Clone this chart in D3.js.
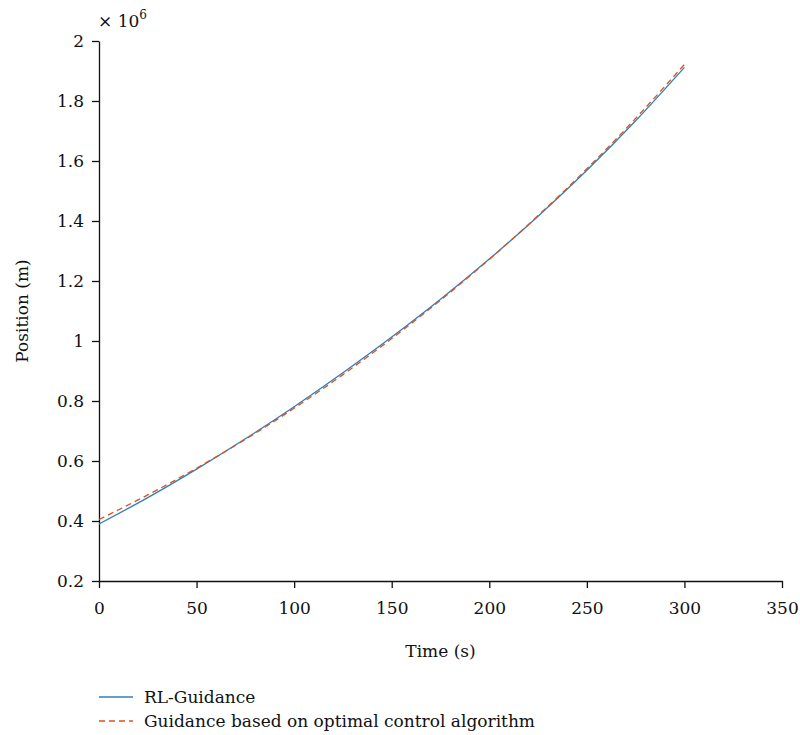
<!DOCTYPE html>
<html>
<head>
<meta charset="utf-8">
<script src="https://cdn.jsdelivr.net/npm/d3@7"></script>
<style>
  body { margin: 0; background: #fff; }
  svg { display: block; }
</style>
</head>
<body>
<svg id="chart" width="800" height="735"></svg>
<script>
// Time samples (s)
const time = [0, 25, 50, 75, 100, 125, 150, 175, 200, 225, 250, 275, 300];
// Position (×10^6 m), RL guidance
const rlGuidance = [0.390, 0.478, 0.573, 0.674, 0.781, 0.894, 1.013, 1.139, 1.273, 1.416, 1.569, 1.734, 1.912];
// Position (×10^6 m), optimal control guidance
const optimalGuidance = [0.405, 0.487, 0.576, 0.672, 0.776, 0.888, 1.008, 1.136, 1.272, 1.418, 1.574, 1.742, 1.922];
const xTicks = [0, 50, 100, 150, 200, 250, 300, 350];
const yTicks = [0.2, 0.4, 0.6, 0.8, 1, 1.2, 1.4, 1.6, 1.8, 2];
const seriesNames = ["RL-Guidance", "Guidance based on optimal control algorithm"];

const FONT = "'DejaVu Serif', serif";
const FS = 17;
const svg = d3.select("#chart");
const m = { left: 99, right: 782, top: 41, bottom: 581 };

const x = d3.scaleLinear().domain([0, 350]).range([m.left, m.right]);
const y = d3.scaleLinear().domain([0.2, 2]).range([m.bottom, m.top]);

const xAxis = d3.axisBottom(x).tickValues(xTicks).tickSize(7).tickSizeOuter(0).tickFormat(d3.format("d"));
const yAxis = d3.axisLeft(y).tickValues(yTicks).tickSize(7).tickSizeOuter(0).tickFormat(d => String(+d.toFixed(1)));

const gx = svg.append("g").attr("transform", `translate(0,${m.bottom})`).call(xAxis);
const gy = svg.append("g").attr("transform", `translate(${m.left},0)`).call(yAxis);

[gx, gy].forEach(g => {
  g.attr("font-family", FONT).attr("font-size", FS);
  g.select(".domain").attr("stroke", "#111").attr("stroke-width", 1.3);
  g.selectAll(".tick line").attr("stroke", "#111").attr("stroke-width", 1.3);
  g.selectAll(".tick text").attr("fill", "#111");
});
gx.selectAll(".tick text").attr("y", 17).attr("dy", "0.95em");
gy.selectAll(".tick text").attr("x", -15).attr("dy", "0.35em");

// Exponent label
const expo = svg.append("text").attr("x", 98).attr("y", 27)
  .attr("font-family", FONT).attr("font-size", FS).attr("fill", "#111");
expo.append("tspan").text("× 10");
expo.append("tspan").attr("dy", -8).attr("font-size", 12).text("6");

// Axis titles
svg.append("text").attr("x", (m.left + m.right) / 2).attr("y", 657)
  .attr("text-anchor", "middle").attr("font-family", FONT).attr("font-size", FS).attr("fill", "#111")
  .text("Time (s)");
svg.append("text").attr("transform", `translate(28,${(m.top + m.bottom) / 2}) rotate(-90)`)
  .attr("text-anchor", "middle").attr("font-family", FONT).attr("font-size", FS).attr("fill", "#111")
  .text("Position (m)");

const line = d3.line().x(d => x(d[0])).y(d => y(d[1])).curve(d3.curveMonotoneX);

const colors = ["#2f7dc2", "#d9541c"];
svg.append("path").datum(d3.zip(time, rlGuidance))
  .attr("d", line).attr("fill", "none").attr("stroke", colors[0]).attr("stroke-width", 1.3);
svg.append("path").datum(d3.zip(time, optimalGuidance))
  .attr("d", line).attr("fill", "none").attr("stroke", colors[1]).attr("stroke-width", 1.3)
  .attr("stroke-dasharray", "6,4");

// Legend
const legend = svg.append("g");
seriesNames.forEach((name, i) => {
  const ly = 697 + i * 24;
  legend.append("line").attr("x1", 99).attr("x2", 133).attr("y1", ly).attr("y2", ly)
    .attr("stroke", colors[i]).attr("stroke-width", 1.3)
    .attr("stroke-dasharray", i === 1 ? "6,4" : null);
  legend.append("text").attr("x", 144).attr("y", ly + 6)
    .attr("font-family", FONT).attr("font-size", FS).attr("fill", "#111").text(name);
});
</script>
</body>
</html>
